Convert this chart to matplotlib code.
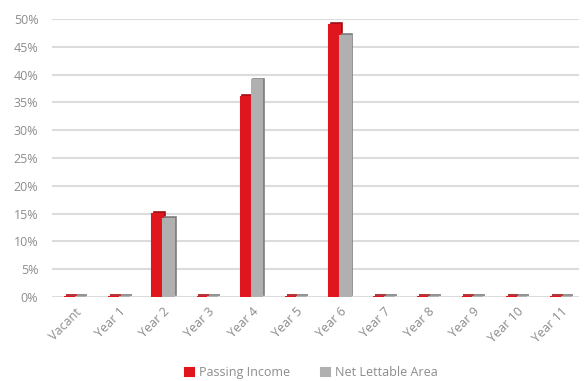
import matplotlib
matplotlib.use("Agg")
import matplotlib.pyplot as plt
from matplotlib.ticker import PercentFormatter
import numpy as np

categories = ["Vacant", "Year 1", "Year 2", "Year 3", "Year 4", "Year 5",
              "Year 6", "Year 7", "Year 8", "Year 9", "Year 10", "Year 11"]
passing_income = [0.0, 0.0, 0.15, 0.0, 0.36, 0.0, 0.49, 0.0, 0.0, 0.0, 0.0, 0.0]
net_lettable_area = [0.0, 0.0, 0.14, 0.0, 0.39, 0.0, 0.47, 0.0, 0.0, 0.0, 0.0, 0.0]
y_ticks = [0, 0.05, 0.10, 0.15, 0.20, 0.25, 0.30, 0.35, 0.40, 0.45, 0.50]

plt.rcParams["font.family"] = ["Open Sans", "DejaVu Sans"]

RED = "#e0161f"
RED_DARK = "#a50f15"
GREY = "#b0b0b0"
GREY_DARK = "#7f7f7f"
TEXT = "#8c8c8c"

fig = plt.figure(figsize=(5.87, 3.81), dpi=100)
ax = fig.add_axes([0.089, 0.2205, 0.898, 0.7295])

x = np.arange(len(categories))
w = 0.245

# depth faces behind the fronts for a light 3D look
ax.bar(x - w / 2 + 0.04, passing_income, w, bottom=0.003, color=RED_DARK,
       edgecolor=RED_DARK, linewidth=1.2, zorder=2)
ax.bar(x + w / 2 + 0.04, net_lettable_area, w, bottom=0.003, color=GREY_DARK,
       edgecolor=GREY_DARK, linewidth=1.2, zorder=2)
ax.bar(x - w / 2, passing_income, w, color=RED, edgecolor=RED,
       linewidth=1.5, zorder=3, label="Passing Income")
ax.bar(x + w / 2, net_lettable_area, w, color=GREY, edgecolor=GREY,
       linewidth=1.5, zorder=3, label="Net Lettable Area")

ax.set_xlim(-0.51, 11.42)
ax.set_ylim(0, 0.5)
ax.set_yticks(y_ticks)
ax.yaxis.set_major_formatter(PercentFormatter(1.0, decimals=0))
ax.grid(axis="y", color="#dcdcdc", linewidth=1.5, zorder=0)
ax.set_axisbelow(True)
for s in ax.spines.values():
    s.set_visible(False)
ax.tick_params(length=0, colors=TEXT, labelsize=9)
ax.tick_params(axis="y", pad=10)
ax.set_xticks(x)
ax.set_xticklabels(categories, rotation=45, ha="right", rotation_mode="anchor")
ax.tick_params(axis="x", pad=6)

leg = fig.legend(loc="lower center", ncol=2, frameon=False, fontsize=9,
                 bbox_to_anchor=(0.53, -0.025), handlelength=0.7,
                 handleheight=0.7, columnspacing=2.5, handletextpad=0.4)
for t in leg.get_texts():
    t.set_color(TEXT)

fig.savefig("out.png", dpi=100)
